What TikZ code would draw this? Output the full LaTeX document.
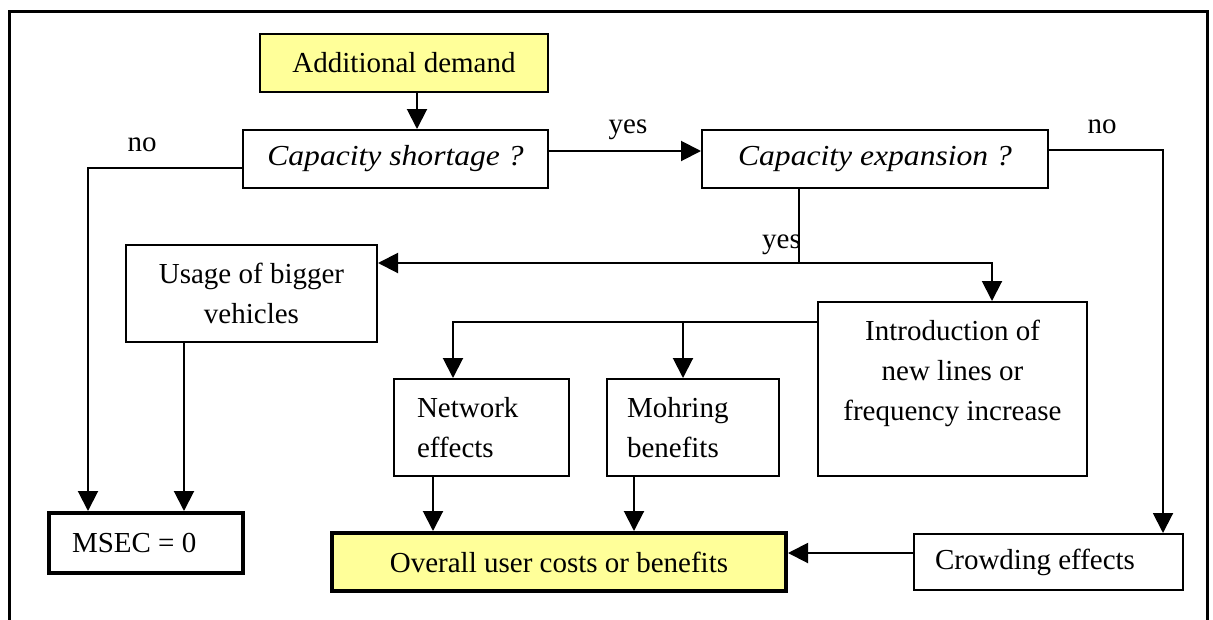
\documentclass[tikz,border=0pt]{standalone}
\usepackage{fontspec}
\setmainfont{Liberation Serif}
\newfontfamily\questfont{Liberation Serif}[FakeStretch=1.09]
\usetikzlibrary{arrows.meta,calc}
\definecolor{hilite}{RGB}{255,255,153}
\begin{document}
\begin{tikzpicture}[x=1pt,y=-1pt,
  every node/.style={font=\fontsize{29}{40}\selectfont},
  box/.style={draw, line width=2pt, inner sep=0pt, align=center},
  heavybox/.style={box, line width=4pt},
  question/.style={box, font=\fontsize{29}{40}\questfont\itshape},
  conn/.style={line width=2pt},
  arr/.style={conn, -{Triangle[length=20pt,width=20pt]}},
  lbl/.style={inner sep=0pt, anchor=base}]
\useasboundingbox (0,0) rectangle (1213,619);
% outer frame (open at the bottom)
\draw[line width=3.5pt] (9.5,625) -- (9.5,11.5) -- (1207.5,11.5) -- (1207.5,625);

% boxes
\node[box, fill=hilite, minimum width=288pt, minimum height=58pt] (demand) at (404,63) {Additional demand};
\node[question, minimum width=305pt, minimum height=58pt] (short) at (395.5,159) {Capacity shortage ?};
\node[question, minimum width=346pt, minimum height=58pt] (expand) at (875,159) {Capacity expansion ?};
\node[box, minimum width=251pt, minimum height=97pt] (usage) at (251.5,293.5) {Usage of bigger\\vehicles};
\node[box, minimum width=269pt, minimum height=174pt] (intro) at (952.5,389) {};
\node[inner sep=0pt, align=center] (introtxt) at (952.5,373) {Introduction of\\new lines or\\frequency increase};
\node[box, minimum width=175pt, minimum height=97pt, text width=129pt, align=flush left] (network) at (481.5,427.5) {Network\\effects};
\node[box, minimum width=172pt, minimum height=97pt, text width=132pt, align=flush left] (mohring) at (693,427.5) {Mohring\\benefits};
\node[heavybox, minimum width=194pt, minimum height=60pt, text width=148pt, align=flush left] (msec) at (146,543) {MSEC = 0};
\node[heavybox, fill=hilite, minimum width=454pt, minimum height=58pt] (overall) at (559,562) {Overall user costs or benefits};
\node[box, minimum width=269pt, minimum height=56pt, text width=227pt, align=flush left] (crowd) at (1048.5,562) {Crowding effects};

% labels
\node[lbl] (nol) at (142,151) {no};
\node[lbl] (yesa) at (628,133) {yes};
\node[lbl] (nor) at (1102,133) {no};
\node[lbl, anchor=base east] (yesb) at (801,248) {yes};

% connectors
\draw[arr] ([xshift=13pt]demand.south) -- ([xshift=13pt]demand.south |- short.north);
\draw[arr] ([yshift=8pt]short.east) -- ([yshift=8pt]short.east -| expand.west);
\draw[arr] ([yshift=-9pt]short.west) -| ([xshift=-58pt]msec.north);
\draw[arr] ([xshift=-67.5pt]usage.south) -- ([xshift=-67.5pt]usage.south |- msec.north);
\draw[arr] ([yshift=9pt]expand.east) -| ([xshift=114.5pt]crowd.north);
\draw[arr] ([yshift=9pt]crowd.west) -- ([yshift=9pt]crowd.west -| overall.east);

\coordinate (split) at ([xshift=-76pt]expand.south |- 0,263);
\draw[conn] ([xshift=-76pt]expand.south) -- (split);
\draw[arr] (split) -- (split -| usage.east);
\draw[arr] (split) -| ([xshift=39.5pt]intro.north);

\coordinate (fork) at ([yshift=67pt]intro.west);
\draw[arr] (fork) -| ([xshift=-28.5pt]network.north);
\draw[arr] ([xshift=-10pt]mohring.north |- fork) -- ([xshift=-10pt]mohring.north);
\draw[arr] ([xshift=-48.5pt]network.south) -- ([xshift=-48.5pt]network.south |- overall.north);
\draw[arr] ([xshift=-59pt]mohring.south) -- ([xshift=-59pt]mohring.south |- overall.north);
\end{tikzpicture}
\end{document}
